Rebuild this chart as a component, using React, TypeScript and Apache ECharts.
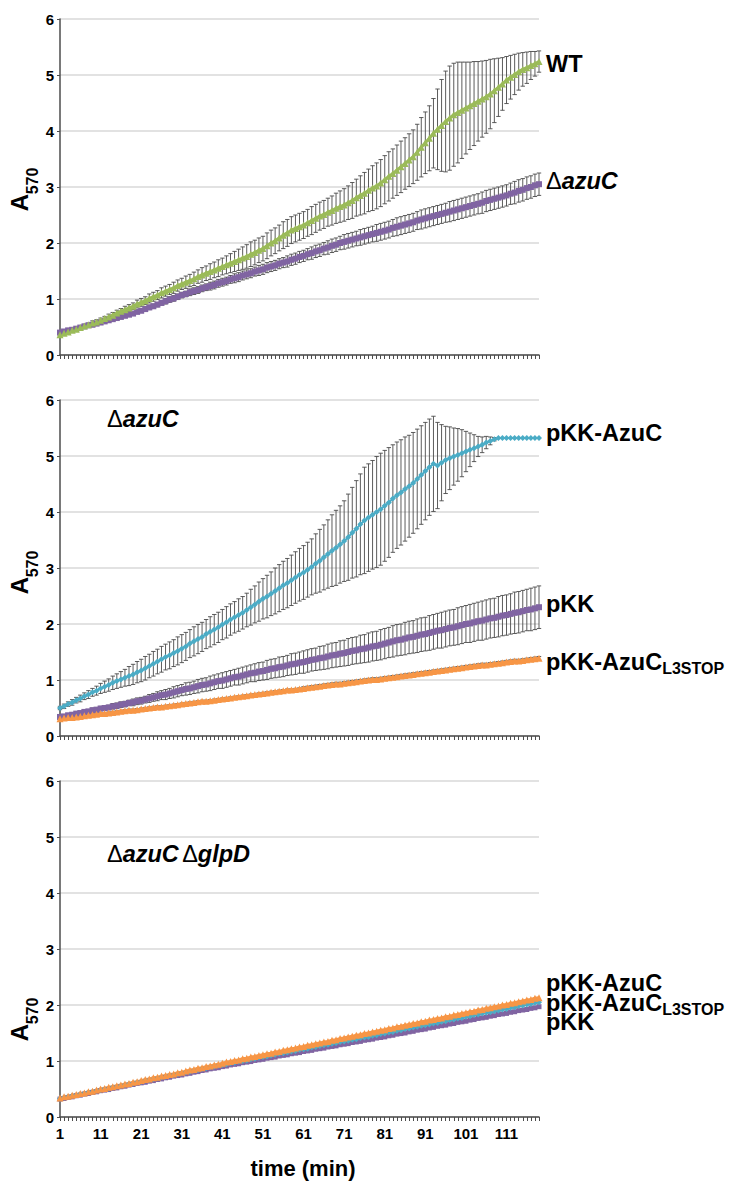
import React, { useEffect, useRef } from "react";
import * as echarts from "echarts";

const TIME: string[] = Array.from({ length: 119 }, (_, i) => String(i + 1));

// Panel 1
const WT_MEAN = [
  0.36,0.39,0.41,0.44,0.46,0.49,0.52,0.54,0.57,0.59,
  0.62,0.65,0.68,0.71,0.75,0.78,0.81,0.84,0.87,0.91,
  0.94,0.97,1.01,1.04,1.07,1.11,1.14,1.17,1.20,1.24,
  1.27,1.30,1.33,1.36,1.40,1.43,1.46,1.49,1.52,1.55,
  1.58,1.61,1.64,1.67,1.70,1.73,1.76,1.80,1.83,1.87,
  1.90,1.95,2.00,2.04,2.09,2.14,2.18,2.23,2.26,2.29,
  2.32,2.36,2.40,2.44,2.48,2.51,2.55,2.58,2.62,2.65,
  2.68,2.72,2.76,2.81,2.85,2.89,2.94,2.98,3.02,3.07,
  3.13,3.19,3.24,3.30,3.36,3.42,3.48,3.54,3.62,3.71,
  3.79,3.87,3.96,4.03,4.10,4.17,4.23,4.29,4.33,4.37,
  4.41,4.45,4.49,4.53,4.57,4.61,4.66,4.72,4.78,4.84,
  4.91,4.96,5.01,5.06,5.10,5.13,5.17,5.20,5.24,
];
const WT_SD = [
  0.02,0.02,0.02,0.03,0.03,0.03,0.03,0.03,0.04,0.04,
  0.04,0.04,0.05,0.05,0.05,0.05,0.06,0.06,0.06,0.07,
  0.07,0.07,0.08,0.08,0.08,0.09,0.09,0.09,0.10,0.10,
  0.10,0.11,0.11,0.12,0.12,0.13,0.13,0.14,0.14,0.15,
  0.15,0.16,0.17,0.18,0.19,0.20,0.21,0.22,0.22,0.22,
  0.22,0.23,0.23,0.23,0.23,0.24,0.24,0.24,0.24,0.24,
  0.24,0.24,0.25,0.25,0.25,0.25,0.25,0.26,0.27,0.28,
  0.29,0.30,0.32,0.33,0.35,0.37,0.38,0.40,0.41,0.42,
  0.43,0.44,0.44,0.45,0.46,0.46,0.47,0.48,0.50,0.53,
  0.55,0.58,0.62,0.72,0.82,0.90,0.93,0.92,0.90,0.86,
  0.82,0.78,0.75,0.71,0.68,0.65,0.62,0.57,0.52,0.47,
  0.42,0.39,0.36,0.33,0.30,0.28,0.25,0.22,0.19,
];
const AZUC_MEAN = [
  0.40,0.42,0.44,0.45,0.47,0.49,0.51,0.53,0.54,0.56,
  0.58,0.60,0.62,0.64,0.66,0.68,0.70,0.72,0.74,0.77,
  0.79,0.82,0.85,0.87,0.90,0.93,0.96,0.99,1.01,1.04,
  1.07,1.09,1.12,1.14,1.16,1.19,1.21,1.23,1.25,1.28,
  1.30,1.32,1.35,1.37,1.39,1.42,1.44,1.46,1.49,1.51,
  1.53,1.56,1.58,1.60,1.63,1.65,1.67,1.70,1.72,1.75,
  1.77,1.80,1.82,1.85,1.87,1.90,1.92,1.95,1.97,2.00,
  2.02,2.04,2.06,2.08,2.10,2.12,2.14,2.16,2.18,2.20,
  2.22,2.24,2.27,2.29,2.31,2.33,2.35,2.37,2.40,2.42,
  2.44,2.46,2.48,2.50,2.52,2.54,2.56,2.58,2.60,2.62,
  2.64,2.66,2.68,2.70,2.72,2.75,2.77,2.79,2.81,2.83,
  2.85,2.88,2.90,2.93,2.95,2.98,3.00,3.03,3.05,
];
const AZUC_SD = [
  0.01,0.01,0.01,0.01,0.01,0.02,0.02,0.02,0.02,0.02,
  0.02,0.02,0.02,0.02,0.03,0.03,0.03,0.03,0.03,0.03,
  0.03,0.04,0.04,0.04,0.04,0.04,0.05,0.05,0.05,0.05,
  0.05,0.05,0.06,0.06,0.06,0.06,0.06,0.07,0.07,0.07,
  0.07,0.07,0.07,0.08,0.08,0.08,0.08,0.08,0.08,0.09,
  0.09,0.09,0.09,0.09,0.09,0.09,0.10,0.10,0.10,0.10,
  0.10,0.10,0.11,0.11,0.11,0.11,0.12,0.12,0.12,0.12,
  0.13,0.13,0.13,0.13,0.14,0.14,0.14,0.14,0.15,0.15,
  0.15,0.15,0.15,0.16,0.16,0.16,0.16,0.16,0.16,0.17,
  0.17,0.17,0.17,0.17,0.17,0.17,0.18,0.18,0.18,0.18,
  0.18,0.18,0.18,0.18,0.19,0.19,0.19,0.19,0.19,0.19,
  0.19,0.19,0.20,0.20,0.20,0.20,0.20,0.20,0.20,
];

// Panel 2 (ΔazuC background)
const M_AZUC_MEAN = [
  0.50,0.53,0.57,0.60,0.64,0.67,0.71,0.74,0.78,0.81,
  0.85,0.88,0.91,0.95,0.98,1.01,1.04,1.07,1.10,1.14,
  1.17,1.21,1.25,1.29,1.33,1.37,1.41,1.44,1.48,1.52,
  1.56,1.60,1.65,1.69,1.73,1.77,1.82,1.86,1.90,1.94,
  1.99,2.03,2.08,2.12,2.16,2.20,2.25,2.30,2.35,2.40,
  2.45,2.49,2.54,2.59,2.64,2.69,2.73,2.78,2.83,2.88,
  2.92,2.97,3.02,3.08,3.13,3.19,3.25,3.31,3.36,3.42,
  3.48,3.55,3.63,3.70,3.78,3.85,3.90,3.95,4.00,4.05,
  4.11,4.17,4.24,4.30,4.35,4.41,4.46,4.52,4.59,4.66,
  4.73,4.80,4.86,4.83,4.88,4.93,4.96,4.99,5.02,5.05,
  5.08,5.11,5.14,5.17,5.20,5.24,5.27,5.30,5.32,5.32,
  5.32,5.32,5.32,5.32,5.32,5.32,5.32,5.32,5.32,
];
const M_AZUC_SD = [
  0.03,0.04,0.04,0.05,0.05,0.06,0.06,0.07,0.07,0.08,
  0.09,0.10,0.11,0.12,0.13,0.14,0.15,0.17,0.18,0.19,
  0.20,0.21,0.21,0.22,0.22,0.23,0.23,0.24,0.24,0.25,
  0.25,0.25,0.25,0.26,0.26,0.26,0.26,0.27,0.27,0.27,
  0.27,0.28,0.28,0.28,0.29,0.29,0.30,0.32,0.33,0.35,
  0.36,0.38,0.39,0.41,0.42,0.43,0.44,0.45,0.46,0.47,
  0.48,0.49,0.50,0.53,0.56,0.58,0.61,0.64,0.67,0.69,
  0.72,0.77,0.81,0.86,0.90,0.95,0.96,0.97,0.99,1.00,
  0.99,0.98,0.96,0.95,0.94,0.93,0.91,0.90,0.89,0.88,
  0.87,0.86,0.85,0.77,0.68,0.60,0.56,0.51,0.47,0.42,
  0.36,0.30,0.24,0.18,0.14,0.11,0.07,0.03,0,0,
  0,0,0,0,0,0,0,0,0,
];
const M_PKK_MEAN = [
  0.34,0.35,0.37,0.38,0.40,0.41,0.43,0.44,0.46,0.47,
  0.49,0.50,0.51,0.53,0.54,0.56,0.57,0.59,0.60,0.62,
  0.63,0.65,0.67,0.69,0.71,0.73,0.74,0.76,0.78,0.80,
  0.82,0.84,0.85,0.87,0.89,0.91,0.92,0.94,0.96,0.98,
  0.99,1.01,1.03,1.05,1.06,1.08,1.10,1.12,1.13,1.15,
  1.16,1.18,1.20,1.21,1.23,1.24,1.26,1.28,1.29,1.31,
  1.32,1.34,1.36,1.37,1.39,1.40,1.42,1.44,1.45,1.47,
  1.48,1.50,1.52,1.53,1.55,1.56,1.58,1.60,1.61,1.63,
  1.65,1.67,1.69,1.71,1.72,1.74,1.76,1.77,1.79,1.81,
  1.82,1.84,1.86,1.88,1.89,1.91,1.93,1.94,1.96,1.98,
  2.00,2.01,2.03,2.05,2.06,2.08,2.10,2.11,2.13,2.15,
  2.16,2.18,2.20,2.21,2.23,2.25,2.26,2.28,2.30,
];
const M_PKK_SD = [
  0.02,0.02,0.02,0.03,0.03,0.03,0.03,0.03,0.04,0.04,
  0.04,0.04,0.04,0.05,0.05,0.05,0.05,0.05,0.06,0.06,
  0.06,0.06,0.07,0.07,0.08,0.08,0.09,0.09,0.10,0.10,
  0.10,0.11,0.11,0.11,0.12,0.12,0.12,0.13,0.13,0.13,
  0.14,0.14,0.14,0.14,0.15,0.15,0.15,0.15,0.16,0.16,
  0.16,0.17,0.17,0.17,0.18,0.18,0.18,0.19,0.19,0.19,
  0.20,0.20,0.20,0.20,0.21,0.21,0.22,0.22,0.22,0.23,
  0.23,0.24,0.24,0.24,0.25,0.25,0.26,0.26,0.26,0.27,
  0.27,0.27,0.28,0.28,0.28,0.29,0.29,0.29,0.30,0.30,
  0.30,0.31,0.31,0.31,0.32,0.32,0.32,0.32,0.33,0.33,
  0.33,0.34,0.34,0.34,0.35,0.35,0.35,0.35,0.36,0.36,
  0.36,0.36,0.37,0.37,0.37,0.37,0.38,0.38,0.38,
];
const M_STOP_MEAN = [
  0.31,0.32,0.33,0.33,0.34,0.35,0.36,0.37,0.38,0.39,
  0.40,0.40,0.41,0.42,0.43,0.44,0.45,0.46,0.46,0.47,
  0.48,0.49,0.50,0.51,0.52,0.52,0.53,0.54,0.55,0.56,
  0.57,0.58,0.59,0.60,0.61,0.62,0.62,0.63,0.64,0.65,
  0.66,0.67,0.68,0.69,0.70,0.71,0.72,0.73,0.74,0.75,
  0.76,0.77,0.78,0.79,0.80,0.81,0.82,0.82,0.83,0.84,
  0.85,0.86,0.87,0.88,0.89,0.90,0.91,0.92,0.93,0.93,
  0.94,0.95,0.96,0.97,0.98,0.99,1.00,1.01,1.01,1.02,
  1.03,1.04,1.05,1.06,1.07,1.08,1.09,1.10,1.11,1.12,
  1.13,1.14,1.15,1.16,1.17,1.18,1.19,1.20,1.21,1.22,
  1.23,1.24,1.25,1.26,1.27,1.27,1.28,1.29,1.30,1.31,
  1.32,1.33,1.34,1.34,1.35,1.36,1.37,1.38,1.39,
];
const M_STOP_SD = [
  0.02,0.02,0.02,0.02,0.02,0.02,0.02,0.02,0.02,0.02,
  0.02,0.02,0.02,0.02,0.02,0.02,0.02,0.02,0.02,0.02,
  0.02,0.02,0.02,0.02,0.02,0.02,0.02,0.02,0.02,0.02,
  0.02,0.02,0.02,0.02,0.02,0.02,0.02,0.02,0.02,0.02,
  0.02,0.02,0.02,0.02,0.02,0.02,0.02,0.02,0.02,0.02,
  0.02,0.02,0.02,0.02,0.02,0.02,0.02,0.02,0.02,0.02,
  0.03,0.03,0.03,0.03,0.03,0.03,0.03,0.03,0.03,0.03,
  0.03,0.03,0.03,0.03,0.03,0.03,0.03,0.03,0.03,0.03,
  0.03,0.03,0.03,0.03,0.03,0.03,0.03,0.03,0.03,0.03,
  0.03,0.03,0.03,0.03,0.03,0.03,0.03,0.03,0.03,0.03,
  0.03,0.03,0.03,0.03,0.03,0.03,0.03,0.03,0.03,0.03,
  0.03,0.03,0.03,0.03,0.03,0.03,0.03,0.03,0.03,
];

// Panel 3 (ΔazuC ΔglpD background)
const B_AZUC_MEAN = [
  0.33,0.35,0.36,0.38,0.39,0.41,0.42,0.44,0.45,0.47,
  0.48,0.50,0.51,0.53,0.54,0.56,0.57,0.59,0.60,0.62,
  0.63,0.65,0.66,0.68,0.69,0.71,0.72,0.74,0.75,0.77,
  0.78,0.80,0.81,0.83,0.84,0.86,0.87,0.89,0.90,0.92,
  0.93,0.94,0.96,0.97,0.99,1.00,1.01,1.03,1.04,1.06,
  1.07,1.08,1.10,1.11,1.13,1.14,1.15,1.17,1.18,1.20,
  1.21,1.22,1.24,1.25,1.27,1.28,1.29,1.31,1.32,1.34,
  1.35,1.36,1.38,1.39,1.41,1.42,1.43,1.45,1.46,1.48,
  1.49,1.51,1.52,1.54,1.55,1.57,1.58,1.60,1.61,1.63,
  1.64,1.65,1.67,1.68,1.70,1.71,1.73,1.74,1.76,1.77,
  1.79,1.80,1.82,1.83,1.85,1.86,1.87,1.89,1.90,1.92,
  1.93,1.95,1.96,1.98,1.99,2.01,2.02,2.04,2.05,
];
const B_STOP_MEAN = [
  0.34,0.36,0.37,0.39,0.40,0.42,0.43,0.45,0.46,0.48,
  0.50,0.51,0.53,0.54,0.56,0.57,0.59,0.60,0.62,0.63,
  0.65,0.67,0.68,0.70,0.71,0.73,0.74,0.76,0.77,0.79,
  0.80,0.82,0.84,0.85,0.87,0.88,0.90,0.91,0.93,0.94,
  0.96,0.98,0.99,1.01,1.02,1.04,1.05,1.07,1.08,1.10,
  1.11,1.13,1.14,1.16,1.17,1.19,1.20,1.22,1.23,1.25,
  1.26,1.28,1.29,1.31,1.32,1.34,1.35,1.37,1.38,1.40,
  1.41,1.43,1.44,1.46,1.47,1.49,1.50,1.52,1.53,1.55,
  1.56,1.58,1.59,1.61,1.62,1.64,1.65,1.67,1.68,1.70,
  1.71,1.73,1.74,1.76,1.77,1.79,1.80,1.82,1.83,1.85,
  1.86,1.88,1.89,1.91,1.92,1.94,1.95,1.97,1.98,2.00,
  2.01,2.03,2.04,2.06,2.07,2.09,2.10,2.12,2.13,
];
const B_PKK_MEAN = [
  0.32,0.33,0.35,0.36,0.38,0.39,0.41,0.42,0.44,0.45,
  0.47,0.48,0.49,0.51,0.52,0.54,0.55,0.57,0.58,0.60,
  0.61,0.62,0.64,0.65,0.67,0.68,0.70,0.71,0.73,0.74,
  0.75,0.77,0.78,0.80,0.81,0.83,0.84,0.86,0.87,0.88,
  0.90,0.91,0.93,0.94,0.95,0.97,0.98,0.99,1.01,1.02,
  1.03,1.05,1.06,1.07,1.09,1.10,1.11,1.13,1.14,1.15,
  1.17,1.18,1.19,1.21,1.22,1.23,1.25,1.26,1.27,1.29,
  1.30,1.31,1.33,1.34,1.35,1.37,1.38,1.39,1.41,1.42,
  1.43,1.45,1.46,1.48,1.49,1.50,1.52,1.53,1.55,1.56,
  1.57,1.59,1.60,1.62,1.63,1.64,1.66,1.67,1.69,1.70,
  1.71,1.73,1.74,1.76,1.77,1.78,1.80,1.81,1.83,1.84,
  1.85,1.87,1.88,1.90,1.91,1.92,1.94,1.95,1.97,
];

const GREEN = "#9BBB59";
const PURPLE = "#8064A2";
const CYAN = "#4BACC6";
const ORANGE = "#F79646";
const FONT = '"Liberation Sans", Arial, Helvetica, sans-serif';

const GRID_TOPS = [19, 400, 781];
const GRID_LEFT = 60;
const GRID_W = 479;
const GRID_H = 336;
const LABEL_SIZE = 23.5;
const SUB_X = 546 + 4.943 * LABEL_SIZE;

function errData(mean: number[], sd: number[]) {
  return mean.map((m, i) => [i, m - sd[i], m + sd[i], sd[i]]);
}

function errSeries(idx: number, mean: number[], sd: number[]) {
  return {
    type: "custom",
    xAxisIndex: idx,
    yAxisIndex: idx,
    z: 1,
    silent: true,
    data: errData(mean, sd),
    renderItem: (params: any, api: any) => {
      if (api.value(3) <= 0) return null;
      const x = api.value(0);
      const lo = api.coord([x, api.value(1)]);
      const hi = api.coord([x, api.value(2)]);
      const w = 2.2;
      const st = { stroke: "#4a4a4a", lineWidth: 0.9 };
      return {
        type: "group",
        children: [
          { type: "line", shape: { x1: lo[0], y1: lo[1], x2: hi[0], y2: hi[1] }, style: st },
          { type: "line", shape: { x1: hi[0] - w, y1: hi[1], x2: hi[0] + w, y2: hi[1] }, style: st },
          { type: "line", shape: { x1: lo[0] - w, y1: lo[1], x2: lo[0] + w, y2: lo[1] }, style: st },
        ],
      };
    },
  };
}

function lineSeries(idx: number, name: string, data: number[], color: string, symbol: string, size: number, width: number) {
  return {
    type: "line",
    name,
    xAxisIndex: idx,
    yAxisIndex: idx,
    z: 3,
    data,
    symbol,
    symbolSize: size,
    showAllSymbol: true,
    silent: true,
    lineStyle: { color, width },
    itemStyle: { color, borderWidth: 0 },
  };
}

function txt(x: number, y: number, text: string, size = LABEL_SIZE, extra: any = {}) {
  return {
    type: "text",
    x,
    y,
    silent: true,
    style: {
      text,
      fontFamily: FONT,
      fontSize: size,
      fontWeight: "bold",
      fill: "#000",
      align: "left",
      verticalAlign: "middle",
      ...extra,
    },
  };
}

function deltaTxt(x: number, y: number, text: string) {
  const rich = {
    d: { fontFamily: FONT, fontSize: LABEL_SIZE, fontWeight: "normal", fill: "#000" },
    i: { fontFamily: FONT, fontSize: LABEL_SIZE, fontWeight: "bold", fontStyle: "italic", fill: "#000" },
  };
  return {
    type: "text",
    x,
    y,
    silent: true,
    style: { text, rich, align: "left", verticalAlign: "middle", fill: "#000" },
  };
}

function yName(cy: number) {
  return [
    {
      type: "text", x: 19, y: cy + 12.5, rotation: Math.PI / 2, silent: true,
      style: { text: "A", fontFamily: FONT, fontSize: 24, fontWeight: "bold", fill: "#000", align: "center", verticalAlign: "middle" },
    },
    {
      type: "text", x: 32, y: cy - 9, rotation: Math.PI / 2, silent: true,
      style: { text: "570", fontFamily: FONT, fontSize: 16, fontWeight: "bold", fill: "#000", align: "center", verticalAlign: "middle" },
    },
  ];
}

export default function App() {
  const ref = useRef<HTMLDivElement>(null);
  useEffect(() => {
    if (!ref.current) return;
    const chart = echarts.init(ref.current, undefined, { renderer: "svg" });
    const grids = GRID_TOPS.map((t) => ({ left: GRID_LEFT, top: t, width: GRID_W, height: GRID_H, containLabel: false }));
    const xAxes = GRID_TOPS.map((_, i) => ({
      type: "category",
      gridIndex: i,
      data: TIME,
      boundaryGap: false,
      axisLine: { show: true, lineStyle: { color: "#4d4d4d", width: 1.5 } },
      axisTick: { show: true, interval: 0, length: 4, lineStyle: { color: "#4d4d4d", width: 1 } },
      axisLabel: {
        show: i === 2,
        interval: 9,
        fontFamily: FONT,
        fontSize: 15,
        fontWeight: "bold",
        color: "#000",
        margin: 9,
      },
      splitLine: { show: false },
    }));
    const yAxes = GRID_TOPS.map((_, i) => ({
      type: "value",
      gridIndex: i,
      min: 0,
      max: 6,
      interval: 1,
      axisLine: { show: true, lineStyle: { color: "#4d4d4d", width: 1.5 } },
      axisTick: { show: true, length: 3, lineStyle: { color: "#4d4d4d" } },
      axisLabel: { fontFamily: FONT, fontSize: 15, fontWeight: "bold", color: "#000", margin: 6 },
      splitLine: { show: true, lineStyle: { color: "#d9d9d9", width: 1.5 } },
    }));

    const series: any[] = [
      errSeries(0, WT_MEAN, WT_SD),
      errSeries(0, AZUC_MEAN, AZUC_SD),
      lineSeries(0, "ΔazuC", AZUC_MEAN, PURPLE, "rect", 6, 3),
      lineSeries(0, "WT", WT_MEAN, GREEN, "triangle", 7, 3),

      errSeries(1, M_AZUC_MEAN, M_AZUC_SD),
      errSeries(1, M_PKK_MEAN, M_PKK_SD),
      errSeries(1, M_STOP_MEAN, M_STOP_SD),
      lineSeries(1, "pKK-AzuC", M_AZUC_MEAN, CYAN, "diamond", 6, 2),
      lineSeries(1, "pKK", M_PKK_MEAN, PURPLE, "rect", 6, 3),
      lineSeries(1, "pKK-AzuC L3STOP", M_STOP_MEAN, ORANGE, "triangle", 7, 3),

      lineSeries(2, "pKK", B_PKK_MEAN, PURPLE, "rect", 5, 2.5),
      lineSeries(2, "pKK-AzuC", B_AZUC_MEAN, CYAN, "diamond", 6, 2.5),
      lineSeries(2, "pKK-AzuC L3STOP", B_STOP_MEAN, ORANGE, "triangle", 7, 3),
    ];

    const graphic: any[] = [
      ...yName(190),
      ...yName(573),
      ...yName(1020),
      txt(546, 64, "WT"),
      deltaTxt(546, 181, "{d|Δ}{i|azuC}"),
      deltaTxt(107, 419, "{d|Δ}{i|azuC}"),
      txt(546, 433, "pKK-AzuC"),
      txt(546, 604, "pKK"),
      txt(546, 662, "pKK-AzuC"),
      txt(SUB_X, 668, "L3STOP", 16),
      deltaTxt(107, 854, "{d|Δ}{i|azuC} {d|Δ}{i|glpD}"),
      txt(546, 983, "pKK-AzuC"),
      txt(546, 1003, "pKK-AzuC"),
      txt(SUB_X, 1009, "L3STOP", 16),
      txt(546, 1022, "pKK"),
      txt(303, 1168, "time (min)", 22, { align: "center" }),
    ];

    chart.setOption({
      animation: false,
      backgroundColor: "#fff",
      grid: grids,
      xAxis: xAxes,
      yAxis: yAxes,
      series,
      graphic,
    });
    return () => chart.dispose();
  }, []);
  return (
    <div
      ref={ref}
      style={{ position: "absolute", left: 0, top: 0, width: 739, height: 1186, background: "#fff" }}
    />
  );
}
